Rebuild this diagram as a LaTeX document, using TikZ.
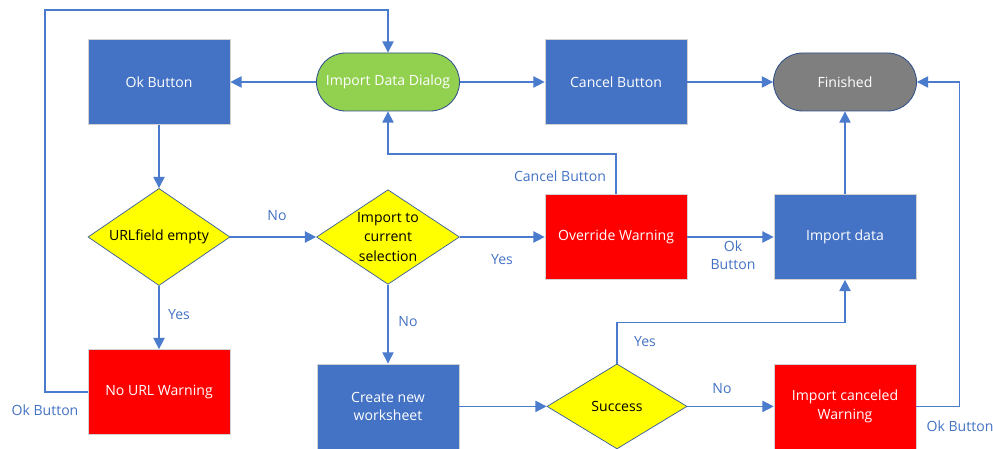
\documentclass[tikz,border=0pt]{standalone}
\usepackage{fontspec}
\setmainfont{Open Sans}
\usepackage{xcolor}
\usepackage{tikz}
\usetikzlibrary{shapes.geometric,arrows.meta,positioning}

\definecolor{boxblue}{HTML}{4472C4}
\definecolor{lineblue}{HTML}{4A7BCC}
\definecolor{termgreen}{HTML}{92D050}
\definecolor{termgray}{HTML}{7F7F7F}
\definecolor{warnred}{HTML}{FF0000}
\definecolor{decyellow}{HTML}{FFFF00}

\begin{document}
\begin{tikzpicture}[
    proc/.style={rectangle, draw=gray!35, line width=0.5pt, fill=boxblue,
                 minimum height=2.125cm, minimum width=3.55cm, align=center,
                 text=white, font=\fontsize{10}{13}\selectfont},
    warn/.style={proc, fill=warnred},
    term/.style={rectangle, draw=boxblue!70!black, line width=0.6pt, rounded corners=0.725cm,
                 minimum height=1.45cm, minimum width=3.575cm, align=center,
                 text=white, font=\fontsize{10}{13}\selectfont},
    decide/.style={diamond, draw=boxblue!80!black, line width=0.5pt, fill=decyellow,
                   inner sep=-3pt, minimum width=3.55cm, minimum height=2.1cm, align=center,
                   text=black, font=\fontsize{10}{14}\selectfont},
    line/.style={draw=lineblue, line width=1pt, -{Triangle[length=8pt,width=8pt]}},
    lbl/.style={text=boxblue, align=center, font=\fontsize{10}{13}\selectfont}
]
\useasboundingbox (0,0) rectangle (24.825,11.2);

% Top row
\node[proc] (okbtn) at (3.975, 9.15) {Ok Button};
\node[term, fill=termgreen] (dialog) at (9.7, 9.15) {Import Data Dialog};
\node[proc] (cancel) at (15.4, 9.15) {Cancel Button};
\node[term, fill=termgray] (finished) at (21.125, 9.15) {Finished};

% Middle row
\node[decide] (urlempty) at (3.975, 5.275) {URLfield empty};
\node[decide, minimum width=3.575cm, minimum height=2.25cm] (importcur) at (9.7, 5.275) {Import to\\current\\selection};
\node[warn] (override) at (15.4, 5.275) {Override Warning};
\node[proc] (importdata) at (21.125, 5.275) {Import data};

% Bottom row
\node[warn] (nourl) at (3.975, 1.4) {No URL Warning};
\node[proc] (newsheet) at (9.7, 1.04) {Create new\\worksheet};
\node[decide, minimum width=3.5cm, minimum height=2.125cm] (success) at (15.425, 1.04) {Success};
\node[warn] (canceled) at (21.125, 1.04) {Import canceled\\Warning};

% Connectors
\draw[line] (dialog) -- (okbtn);
\draw[line] (dialog) -- (cancel);
\draw[line] (cancel) -- (finished);
\draw[line] (okbtn) -- (urlempty);
\draw[line] (urlempty) -- (importcur);
\draw[line] (urlempty) -- (nourl);
\draw[line] (importcur) -- (override);
\draw[line] (importcur) -- (newsheet);
\draw[line] (override) -- (importdata);
\draw[line] (importdata) -- (finished);
\draw[line] (newsheet) -- (success);
\draw[line] (success) -- (canceled);
\draw[line] (override.north) -- ++(0,1) -| (dialog.south);
\draw[line] (success.north) -- ++(0,1.025) -| (importdata.south);
\draw[line] (canceled.east) -- ++(1.075,0) |- (finished.east);
\coordinate (loopcorner) at (1.125, 10.95);
\draw[line] (nourl.west) -| (loopcorner) -| (dialog.north);

% Labels
\node[lbl] (lblno1) at (6.925, 5.8) {No};
\node[lbl] (lblyes1) at (4.475, 3.325) {Yes};
\node[lbl] (lblyes2) at (12.55, 4.7) {Yes};
\node[lbl] (lblno2) at (10.2, 3.15) {No};
\node[lbl] (lblok1) at (18.325, 4.825) {Ok\\Button};
\node[lbl] (lblcancel) at (14.0, 6.8) {Cancel Button};
\node[lbl] (lblyes3) at (16.125, 2.65) {Yes};
\node[lbl] (lblno3) at (18.05, 1.475) {No};
\node[lbl] (lblok2) at (24.0, 0.55) {Ok Button};
\node[lbl] (lblok3) at (1.125, 0.95) {Ok Button};

\end{tikzpicture}
\end{document}
